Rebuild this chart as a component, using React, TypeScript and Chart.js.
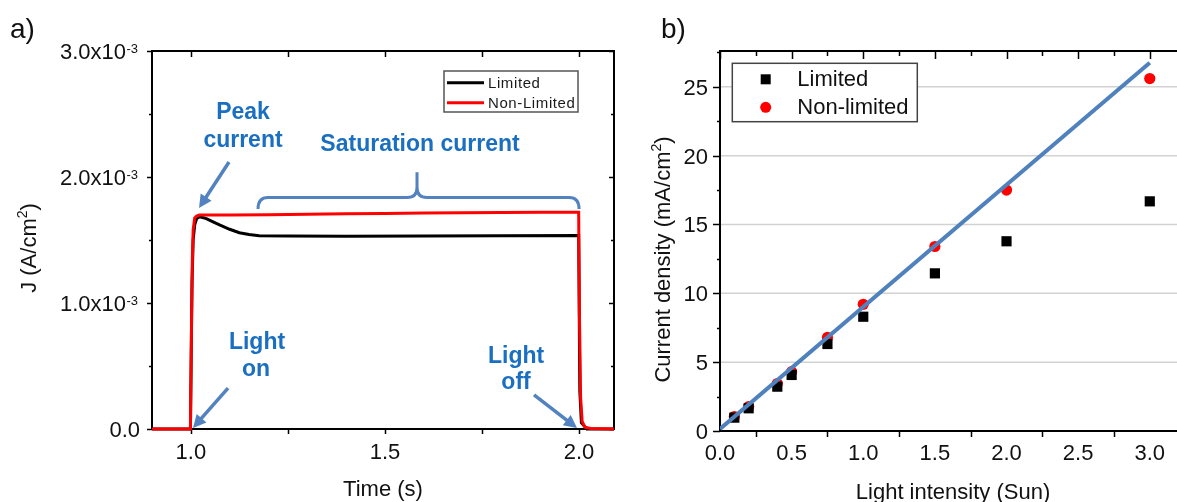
import React, { useEffect, useRef } from "react";
import { Chart, registerables } from "chart.js";
Chart.register(...registerables);

const FONT = '"Liberation Sans", Arial, sans-serif';
const TEXT = "#111111";
const ANNO_TEXT = "#1a6fc0";
const ANNO_LINE = "#5282bf";

// ---------- Panel a) : transient current ----------
const limitedTime = [0.9, 0.999, 1.003, 1.006, 1.01, 1.015, 1.023, 1.04, 1.06, 1.074, 1.1, 1.125, 1.15, 1.176, 1.25, 1.4, 1.6, 1.8, 1.999, 2.002, 2.006, 2.02, 2.09];
const limitedJ = [0, 0, 1.15e-3, 1.5e-3, 1.62e-3, 1.67e-3, 1.685e-3, 1.67e-3, 1.64e-3, 1.62e-3, 1.585e-3, 1.558e-3, 1.543e-3, 1.534e-3, 1.531e-3, 1.53e-3, 1.531e-3, 1.533e-3, 1.535e-3, 0.3e-3, 0.05e-3, 0, 0];

const nonLimitedTime = [0.9, 0.999, 1.002, 1.004, 1.006, 1.01, 1.015, 1.022, 1.035, 1.1, 1.2, 1.3, 1.4, 1.5, 1.6, 1.7, 1.8, 1.9, 1.999, 2.001, 2.004, 2.008, 2.015, 2.03, 2.09];
const nonLimitedJ = [0, 0, 0.9e-3, 1.35e-3, 1.58e-3, 1.675e-3, 1.69e-3, 1.698e-3, 1.698e-3, 1.699e-3, 1.701e-3, 1.704e-3, 1.708e-3, 1.711e-3, 1.714e-3, 1.716e-3, 1.718e-3, 1.72e-3, 1.72e-3, 0.9e-3, 0.25e-3, 0.06e-3, 0.015e-3, 0.004e-3, 0];

const timeTicks = [1.0, 1.5, 2.0];
const timeTickLabels = ["1.0", "1.5", "2.0"];
const timeMinorTicks = [1.25, 1.75];
const jTicks = [0, 1e-3, 2e-3, 3e-3];
const jTickMantissa = ["0.0", "1.0x10", "2.0x10", "3.0x10"];
const jTickExponent = ["", "-3", "-3", "-3"];
const jMinorTicks = [0.5e-3, 1.5e-3, 2.5e-3];
const legendA = ["Limited", "Non-Limited"];

// ---------- Panel b) : current density vs light intensity ----------
const intensity = [0.1, 0.2, 0.4, 0.5, 0.75, 1.0, 1.5, 2.0, 3.0];
const limitedDensity = [0.97, 1.65, 3.22, 4.07, 6.32, 8.3, 11.45, 13.78, 16.68];
const nonLimitedDensity = [1.05, 1.77, 3.45, 4.31, 6.8, 9.2, 13.4, 17.5, 25.6];
const fitIntensity = [0, 3.0];
const fitDensity = [0.15, 26.75];

const intensityTicks = [0, 0.5, 1.0, 1.5, 2.0, 2.5, 3.0];
const intensityTickLabels = ["0.0", "0.5", "1.0", "1.5", "2.0", "2.5", "3.0"];
const intensityMinorTicks = [0.25, 0.75, 1.25, 1.75, 2.25, 2.75];
const densityTicks = [0, 5, 10, 15, 20, 25];
const densityTickLabels = ["0", "5", "10", "15", "20", "25"];
const densityMinorTicks = [2.5, 7.5, 12.5, 17.5, 22.5, 27.5];
const legendB = ["Limited", "Non-limited"];

function line(ctx: CanvasRenderingContext2D, x1: number, y1: number, x2: number, y2: number) {
  ctx.beginPath();
  ctx.moveTo(x1, y1);
  ctx.lineTo(x2, y2);
  ctx.stroke();
}

function arrow(ctx: CanvasRenderingContext2D, x1: number, y1: number, x2: number, y2: number) {
  const a = Math.atan2(y2 - y1, x2 - x1);
  const head = 13, hw = 6.5;
  const c = Math.cos(a), s = Math.sin(a);
  const bx = x2 - head * c, by = y2 - head * s;
  ctx.save();
  ctx.strokeStyle = ANNO_LINE;
  ctx.fillStyle = ANNO_LINE;
  ctx.lineWidth = 3.5;
  ctx.lineCap = "butt";
  line(ctx, x1, y1, bx + 2 * c, by + 2 * s);
  ctx.beginPath();
  ctx.moveTo(x2, y2);
  ctx.lineTo(bx + hw * s, by - hw * c);
  ctx.lineTo(bx - hw * s, by + hw * c);
  ctx.closePath();
  ctx.fill();
  ctx.restore();
}

function rotatedTitle(ctx: CanvasRenderingContext2D, cx: number, cy: number, pre: string, sup: string, post: string, size: number) {
  ctx.save();
  ctx.fillStyle = TEXT;
  const f = `${size}px ${FONT}`;
  const sf = `${Math.round(size * 0.62)}px ${FONT}`;
  ctx.font = f;
  const w1 = ctx.measureText(pre).width;
  const w3 = ctx.measureText(post).width;
  ctx.font = sf;
  const w2 = ctx.measureText(sup).width;
  const total = w1 + w2 + w3;
  ctx.translate(cx, cy);
  ctx.rotate(-Math.PI / 2);
  ctx.textAlign = "left";
  ctx.textBaseline = "alphabetic";
  let x = -total / 2;
  const base = size * 0.36;
  ctx.font = f;
  ctx.fillText(pre, x, base);
  x += w1;
  ctx.font = sf;
  ctx.fillText(sup, x, base - size * 0.42);
  x += w2;
  ctx.font = f;
  ctx.fillText(post, x, base);
  ctx.restore();
}

const panelAPlugin = {
  id: "panelA",
  beforeDatasetsDraw(chart: any) {
    const { ctx, chartArea: ca, scales } = chart;
    const xs = scales.x, ys = scales.y;
    ctx.save();
    ctx.strokeStyle = "#000";
    ctx.lineWidth = 2;
    ctx.strokeRect(ca.left, ca.top, ca.right - ca.left, ca.bottom - ca.top);
    ctx.lineWidth = 1.5;
    [...timeTicks, ...timeMinorTicks].forEach((v) => {
      const x = Math.round(xs.getPixelForValue(v)) + 0.5;
      line(ctx, x, ca.bottom, x, ca.bottom + 5);
      line(ctx, x, ca.top, x, ca.top + 6);
    });
    jTicks.forEach((v) => {
      const y = Math.round(ys.getPixelForValue(v)) + 0.5;
      line(ctx, ca.left - 5, y, ca.left, y);
      line(ctx, ca.right - 5, y, ca.right, y);
    });
    jMinorTicks.forEach((v) => {
      const y = Math.round(ys.getPixelForValue(v)) + 0.5;
      line(ctx, ca.left - 3, y, ca.left, y);
      line(ctx, ca.right - 3, y, ca.right, y);
    });
    // tick labels
    ctx.fillStyle = TEXT;
    ctx.font = `22px ${FONT}`;
    ctx.textAlign = "center";
    ctx.textBaseline = "alphabetic";
    timeTicks.forEach((v, i) => {
      ctx.fillText(timeTickLabels[i], xs.getPixelForValue(v), ca.bottom + 30);
    });
    jTicks.forEach((v, i) => {
      const y = ys.getPixelForValue(v);
      ctx.textAlign = "right";
      ctx.font = `22px ${FONT}`;
      if (jTickExponent[i]) {
        ctx.fillText(jTickMantissa[i], ca.left - 26, y + 8);
        ctx.textAlign = "left";
        ctx.font = `13px ${FONT}`;
        ctx.fillText(jTickExponent[i], ca.left - 25.5, y + 1.5);
      } else {
        ctx.fillText(jTickMantissa[i], ca.left - 12, y + 7.5);
      }
    });
    // axis titles
    ctx.font = `22px ${FONT}`;
    ctx.textAlign = "center";
    ctx.fillText("Time (s)", (ca.left + ca.right) / 2, 496);
    rotatedTitle(ctx, 28, 248, "J (A/cm", "2", ")", 22);
    ctx.font = `28px ${FONT}`;
    ctx.textAlign = "left";
    ctx.fillText("a)", 10, 38);
    ctx.restore();
  },
  afterDatasetsDraw(chart: any) {
    const { ctx, scales } = chart;
    const X = (v: number) => scales.x.getPixelForValue(v);
    const Y = (v: number) => scales.y.getPixelForValue(v * 1e-3);
    ctx.save();
    // legend
    const lx = 444, ly = 71, lw = 134, lh = 41;
    ctx.fillStyle = "#fff";
    ctx.fillRect(lx, ly, lw, lh);
    ctx.strokeStyle = "#555";
    ctx.lineWidth = 1.5;
    ctx.strokeRect(lx, ly, lw, lh);
    const colors = ["#000000", "#ff0000"];
    legendA.forEach((t, i) => {
      const y = ly + 11.7 + i * 20;
      ctx.strokeStyle = colors[i];
      ctx.lineWidth = 3;
      line(ctx, lx + 3, y, lx + 40, y);
      ctx.fillStyle = "#1a1a1a";
      ctx.font = `15px ${FONT}`;
      (ctx as any).letterSpacing = "0.6px";
      ctx.textAlign = "left";
      ctx.textBaseline = "middle";
      ctx.fillText(t, lx + 44, y + 1);
    });
    (ctx as any).letterSpacing = "0px";
    // annotation texts
    ctx.fillStyle = ANNO_TEXT;
    ctx.font = `bold 23px ${FONT}`;
    ctx.textAlign = "center";
    ctx.textBaseline = "middle";
    ctx.fillText("Peak", X(1.1344), Y(2.51));
    ctx.fillText("current", X(1.1344), Y(2.288));
    ctx.fillText("Saturation current", X(1.5904), Y(2.254));
    ctx.fillText("Light", X(1.1705), Y(0.685));
    ctx.fillText("on", X(1.1679), Y(0.468));
    ctx.fillText("Light", X(1.8377), Y(0.574));
    ctx.fillText("off", X(1.8377), Y(0.365));
    // arrows
    arrow(ctx, X(1.0984), Y(2.119), X(1.0211), Y(1.754));
    arrow(ctx, X(1.0958), Y(0.325), X(1.0056), Y(0.008));
    arrow(ctx, X(1.884), Y(0.27), X(1.9948), Y(0.008));
    // brace
    const L = X(1.1731), R = X(2.0), C = X(1.5826);
    const yEnd = Y(1.746), yBar = Y(1.837), yTop = Y(2.037);
    const r = 10;
    ctx.strokeStyle = ANNO_LINE;
    ctx.lineWidth = 3;
    ctx.beginPath();
    ctx.moveTo(L, yEnd);
    ctx.quadraticCurveTo(L, yBar, L + r, yBar);
    ctx.lineTo(C - r, yBar);
    ctx.quadraticCurveTo(C, yBar, C, yBar - r);
    ctx.lineTo(C, yTop);
    ctx.moveTo(C, yBar - r);
    ctx.quadraticCurveTo(C, yBar, C + r, yBar);
    ctx.lineTo(R - r, yBar);
    ctx.quadraticCurveTo(R, yBar, R, yEnd);
    ctx.stroke();
    ctx.restore();
  },
};

const panelBPlugin = {
  id: "panelB",
  beforeDatasetsDraw(chart: any) {
    const { ctx, chartArea: ca, scales } = chart;
    const xs = scales.x, ys = scales.y;
    ctx.save();
    // grid
    ctx.strokeStyle = "#d2d2d2";
    ctx.lineWidth = 1.5;
    densityTicks.forEach((v) => {
      if (v === 0) return;
      const y = ys.getPixelForValue(v);
      line(ctx, ca.left, y, ca.right, y);
    });
    // frame (left, top, bottom; right side lies beyond the picture)
    ctx.strokeStyle = "#000";
    ctx.lineWidth = 2;
    ctx.beginPath();
    ctx.moveTo(ca.right + 2, ca.top);
    ctx.lineTo(ca.left, ca.top);
    ctx.lineTo(ca.left, ca.bottom);
    ctx.lineTo(ca.right + 2, ca.bottom);
    ctx.stroke();
    ctx.lineWidth = 1.5;
    intensityTicks.forEach((v) => {
      const x = Math.round(xs.getPixelForValue(v)) + 0.5;
      line(ctx, x, ca.top, x, ca.top + 8);
    });
    intensityMinorTicks.forEach((v) => {
      const x = Math.round(xs.getPixelForValue(v)) + 0.5;
      line(ctx, x, ca.top, x, ca.top + 5);
      line(ctx, x, ca.bottom, x, ca.bottom + 6);
    });
    densityTicks.forEach((v) => {
      const y = Math.round(ys.getPixelForValue(v)) + 0.5;
      line(ctx, ca.left - 7, y, ca.left, y);
    });
    densityMinorTicks.forEach((v) => {
      const y = Math.round(ys.getPixelForValue(v)) + 0.5;
      line(ctx, ca.left - 3, y, ca.left, y);
    });
    // labels
    ctx.fillStyle = TEXT;
    ctx.font = `22px ${FONT}`;
    ctx.textBaseline = "alphabetic";
    ctx.textAlign = "center";
    intensityTicks.forEach((v, i) => {
      ctx.fillText(intensityTickLabels[i], xs.getPixelForValue(v), ca.bottom + 29);
    });
    ctx.textAlign = "right";
    densityTicks.forEach((v, i) => {
      ctx.fillText(densityTickLabels[i], ca.left - 12, ys.getPixelForValue(v) + 8);
    });
    ctx.textAlign = "center";
    ctx.fillText("Light intensity (Sun)", 953 - 625, 499);
    rotatedTitle(ctx, 662 - 625, 259.5, "Current density (mA/cm", "2", ")", 22);
    ctx.font = `28px ${FONT}`;
    ctx.textAlign = "left";
    ctx.fillText("b)", 661 - 625, 38);
    ctx.restore();
  },
  afterDatasetsDraw(chart: any) {
    const { ctx } = chart;
    ctx.save();
    const bx = 107.3, by = 63.3, bw = 185, bh = 58.4;
    ctx.fillStyle = "#fff";
    ctx.fillRect(bx, by, bw, bh);
    ctx.strokeStyle = "#444";
    ctx.lineWidth = 1.5;
    ctx.strokeRect(bx, by, bw, bh);
    const mx = bx + 33.4;
    const y1 = by + 16, y2 = by + 44;
    ctx.fillStyle = "#000";
    ctx.fillRect(mx - 5, y1 - 5, 10, 10);
    ctx.fillStyle = "#ff0000";
    ctx.beginPath();
    ctx.arc(mx, y2, 5.5, 0, Math.PI * 2);
    ctx.fill();
    ctx.fillStyle = TEXT;
    ctx.font = `22px ${FONT}`;
    ctx.textAlign = "left";
    ctx.textBaseline = "alphabetic";
    ctx.fillText(legendB[0], bx + 65, y1 + 7);
    ctx.fillText(legendB[1], bx + 65, y2 + 7);
    ctx.restore();
  },
};

function PanelA() {
  const ref = useRef<HTMLCanvasElement>(null);
  useEffect(() => {
    if (!ref.current) return;
    const chart = new Chart(ref.current, {
      type: "line",
      data: {
        datasets: [
          {
            label: "Non-Limited",
            data: nonLimitedTime.map((t, i) => ({ x: t, y: nonLimitedJ[i] })),
            borderColor: "#ff0000",
            borderWidth: 3,
            pointRadius: 0,
            tension: 0,
            clip: 3,
          },
          {
            label: "Limited",
            data: limitedTime.map((t, i) => ({ x: t, y: limitedJ[i] })),
            borderColor: "#000000",
            borderWidth: 3,
            pointRadius: 0,
            tension: 0,
            clip: 3,
          },
        ],
      } as any,
      options: {
        animation: false,
        responsive: false,
        devicePixelRatio: 1,
        events: [],
        layout: { autoPadding: false, padding: { left: 152, top: 51, right: 11, bottom: 73 } },
        plugins: { legend: { display: false }, tooltip: { enabled: false } },
        scales: {
          x: { type: "linear", display: false, min: 0.9, max: 2.09 },
          y: { type: "linear", display: false, min: 0, max: 3e-3 },
        },
      } as any,
      plugins: [panelAPlugin],
    });
    return () => chart.destroy();
  }, []);
  return (
    <canvas
      ref={ref}
      width={625}
      height={502}
      style={{ position: "absolute", left: 0, top: 0, width: 625, height: 502 }}
    />
  );
}

function PanelB() {
  const ref = useRef<HTMLCanvasElement>(null);
  useEffect(() => {
    if (!ref.current) return;
    const chart = new Chart(ref.current, {
      type: "scatter",
      data: {
        datasets: [
          {
            label: "Fit",
            data: fitIntensity.map((x, i) => ({ x, y: fitDensity[i] })),
            showLine: true,
            borderColor: "#4f81bd",
            borderWidth: 4,
            pointRadius: 0,
          },
          {
            label: "Limited",
            data: intensity.map((x, i) => ({ x, y: limitedDensity[i] })),
            pointStyle: "rect",
            pointRadius: 7.2,
            backgroundColor: "#000000",
            borderWidth: 0,
          },
          {
            label: "Non-limited",
            data: intensity.map((x, i) => ({ x, y: nonLimitedDensity[i] })),
            pointStyle: "circle",
            pointRadius: 5.6,
            backgroundColor: "#ff0000",
            borderWidth: 0,
          },
        ],
      } as any,
      options: {
        animation: false,
        responsive: false,
        devicePixelRatio: 1,
        events: [],
        layout: { autoPadding: false, padding: { left: 95, top: 51, right: 0, bottom: 71 } },
        plugins: { legend: { display: false }, tooltip: { enabled: false } },
        scales: {
          x: { type: "linear", display: false, min: 0, max: 3.19 },
          y: { type: "linear", display: false, min: 0, max: 27.6 },
        },
      } as any,
      plugins: [panelBPlugin],
    });
    return () => chart.destroy();
  }, []);
  return (
    <canvas
      ref={ref}
      width={552}
      height={502}
      style={{ position: "absolute", left: 625, top: 0, width: 552, height: 502 }}
    />
  );
}

export default function App() {
  return (
    <div
      style={{
        position: "fixed",
        left: 0,
        top: 0,
        width: 1177,
        height: 502,
        overflow: "hidden",
        background: "#ffffff",
      }}
    >
      <PanelA />
      <PanelB />
    </div>
  );
}
